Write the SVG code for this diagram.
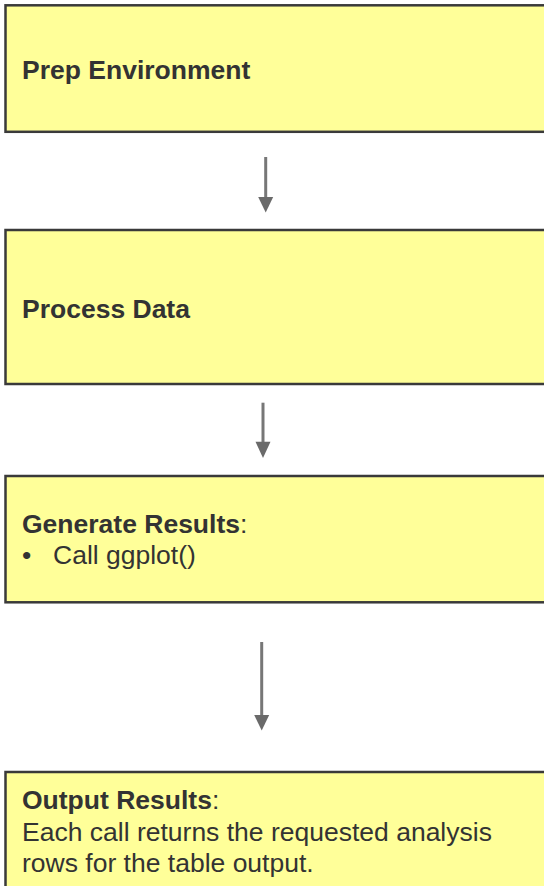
<svg xmlns="http://www.w3.org/2000/svg" width="544" height="886" viewBox="0 0 544 886">
<style>
.box{fill:#FFFF99;stroke:#3a3a3a;stroke-width:2.5}
.t{font-family:"Liberation Sans",Arial,sans-serif;font-size:26.5px;fill:#333333}
.b{font-weight:bold}
.c{stroke:#777777;stroke-width:3;fill:none}
.h{fill:#6a6a6a}
</style>
<rect width="544" height="886" fill="#ffffff"/>
<g id="n1">
<rect class="box" x="5.5" y="5.3" width="560" height="126.5"/>
<text class="t b" x="22" y="79.3">Prep Environment</text>
</g>
<g id="n2">
<rect class="box" x="5.5" y="230" width="560" height="154"/>
<text class="t b" x="22" y="318.3">Process Data</text>
</g>
<g id="n3">
<rect class="box" x="5.5" y="476" width="560" height="126.3"/>
<text class="t" x="22" y="532.7"><tspan class="b">Generate Results</tspan>:</text>
<text class="t" x="22" y="564">•</text>
<text class="t" x="53" y="564">Call ggplot()</text>
</g>
<g id="n4">
<rect class="box" x="5.5" y="772" width="560" height="130"/>
<text class="t" x="22" y="809.3"><tspan class="b">Output Results</tspan>:</text>
<text class="t" x="22" y="840.5">Each call returns the requested analysis</text>
<text class="t" x="22" y="871.7">rows for the table output.</text>
</g>
<g id="connectors">
<line class="c" x1="265.7" y1="157" x2="265.7" y2="198"/>
<polygon class="h" points="258.2,197 273.2,197 265.7,212.5"/>
<line class="c" x1="263" y1="402.7" x2="263" y2="443"/>
<polygon class="h" points="255.5,441.7 270.5,441.7 263,458"/>
<line class="c" x1="261.7" y1="642" x2="261.7" y2="716"/>
<polygon class="h" points="254.2,715 269.2,715 261.7,730.5"/>
</g>
</svg>
